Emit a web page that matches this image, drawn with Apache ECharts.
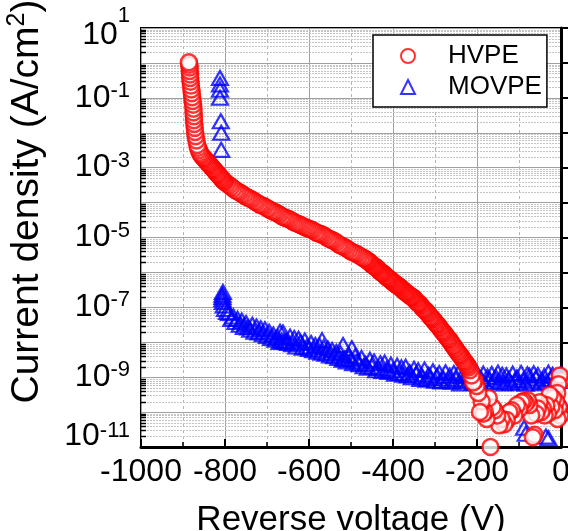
<!DOCTYPE html>
<html>
<head>
<meta charset="utf-8">
<script src="https://cdn.jsdelivr.net/npm/echarts@6/dist/echarts.min.js"></script>
<style>
  html, body { margin: 0; padding: 0; background: #fff; }
  #chart { width: 568px; height: 531px; }
</style>
</head>
<body>
<div id="chart"></div>
<script>
// Reverse I-V sweeps (0 V towards breakdown). Current density stored as log10(J / A cm^-2).
const seriesNames = ['HVPE', 'MOVPE'];

const hvpeV = [
  0, -2, -3, -5, -6, -8, -9, -12, -15,
  -19, -23, -27, -31, -35, -39, -43, -47, -51, -55,
  -59, -63, -67, -71, -75, -79, -84, -89, -94, -99,
  -105, -111, -117, -123, -129, -135, -141, -147, -152, -158,
  -163, -168, -172, -177, -181, -185, -189, -193, -197, -201,
  -205, -209, -213, -217,
  -220, -222.5, -225, -227.5, -230, -232.5, -235, -237.5, -240, -242.5,
  -245, -247.5, -250, -252.5, -255, -257.5, -260, -262.5, -265, -267.5,
  -270, -272.5, -275, -277.5, -280, -282.5, -285, -287.5, -290, -292.5,
  -295, -297.5, -300, -302.5, -305, -307.5, -310, -312.5, -315, -317.5,
  -320, -322.5, -325, -327.5, -330, -332.5, -335, -337.5, -340, -342.5,
  -345, -347.5, -350, -352.5, -355, -357.5, -360, -362.5, -365, -367.5,
  -370, -372.5, -375, -377.5, -380, -382.5, -385, -387.5, -390, -392.5,
  -395, -397.5, -400, -402.5, -405, -407.5, -410, -412.5, -415, -417.5,
  -420, -422.5, -425, -427.5, -430, -432.5, -435, -437.5, -440, -442.5,
  -445, -447.5, -450, -452.5, -455, -457.5, -460, -462.5, -465, -467.5,
  -470,
  -475, -480, -485, -490, -495, -500, -505, -510, -515, -520,
  -525, -530, -535, -540, -545, -550, -555, -560, -565, -570,
  -575, -580, -585, -590, -595, -600, -605, -610, -615, -620,
  -625, -630, -635, -640, -645, -650, -655, -660, -665, -670,
  -675, -680, -685, -690, -695, -700, -705, -710, -715, -720,
  -725, -730, -735, -740, -745, -750, -755, -760, -765, -770,
  -775, -780, -785, -790, -795, -800,
  -802.5, -805, -807.5, -810, -812.5, -815, -817.5, -820, -822.5, -825,
  -827.5, -830, -832.5, -835, -837.5, -840, -842.5, -845, -847.5, -850,
  -852.5, -855, -857.5, -860, -862, -864,
  -866, -868, -870, -871, -872, -873, -874, -874, -875, -875,
  -876, -877, -878, -879, -880, -881, -882, -883, -883, -884,
  -884, -885, -886
];
const hvpeLogJ = [
  -9.1, -10.1, -8.95, -9.85, -9.2, -10.2, -9.45, -9.7, -9.95,
  -9.6, -9.85, -9.5, -10.05, -9.8, -10.1, -9.9, -10.0, -9.72, -9.9,
  -10.05, -10.65, -10.72, -10.1, -9.8, -9.66, -9.75, -9.68, -9.72, -9.9,
  -9.8, -10.1, -9.95, -10.0, -10.23, -10.35, -10.2, -10.38, -10.1, -9.95,
  -9.86, -11.0, -9.6, -10.2, -10.0, -10.05, -9.7, -10.0, -9.45, -9.25,
  -9.1, -9.15, -8.95, -8.8,
  -8.72, -8.67, -8.63, -8.58, -8.55, -8.51, -8.46, -8.41, -8.37, -8.34,
  -8.3, -8.26, -8.21, -8.17, -8.12, -8.09, -8.04, -7.99, -7.94, -7.91,
  -7.88, -7.84, -7.79, -7.75, -7.72, -7.69, -7.65, -7.6, -7.56, -7.52,
  -7.49, -7.46, -7.42, -7.38, -7.34, -7.31, -7.28, -7.25, -7.2, -7.16,
  -7.13, -7.1, -7.07, -7.05, -7.01, -6.97, -6.93, -6.9, -6.88, -6.86,
  -6.82, -6.78, -6.75, -6.72, -6.7, -6.69, -6.67, -6.64, -6.61, -6.59,
  -6.57, -6.55, -6.52, -6.49, -6.46, -6.43, -6.41, -6.39, -6.37, -6.35,
  -6.33, -6.3, -6.28, -6.25, -6.22, -6.2, -6.18, -6.16, -6.13, -6.1,
  -6.07, -6.04, -6.02, -6.0, -5.98, -5.95, -5.92, -5.89, -5.86, -5.84,
  -5.82, -5.8, -5.78, -5.75, -5.72, -5.69, -5.67, -5.65, -5.63, -5.61,
  -5.59,
  -5.56, -5.52, -5.48, -5.45, -5.43, -5.4, -5.36, -5.32, -5.28, -5.25,
  -5.23, -5.19, -5.14, -5.1, -5.07, -5.05, -5.02, -4.98, -4.94, -4.91,
  -4.89, -4.87, -4.84, -4.8, -4.77, -4.75, -4.73, -4.7, -4.67, -4.64,
  -4.61, -4.59, -4.57, -4.53, -4.49, -4.46, -4.44, -4.42, -4.39, -4.35,
  -4.31, -4.28, -4.26, -4.23, -4.19, -4.16, -4.12, -4.09, -4.07, -4.04,
  -4.0, -3.96, -3.92, -3.89, -3.86, -3.83, -3.79, -3.75, -3.71, -3.68,
  -3.65, -3.6, -3.55, -3.5, -3.46, -3.42,
  -3.39, -3.35, -3.32, -3.29, -3.25, -3.21, -3.18, -3.15, -3.11, -3.07,
  -3.04, -3.01, -2.97, -2.93, -2.9, -2.87, -2.84, -2.8, -2.76, -2.73,
  -2.7, -2.66, -2.62, -2.57, -2.5, -2.43,
  -2.35, -2.22, -2.1, -1.98, -1.86, -1.75, -1.64, -1.53, -1.42, -1.31,
  -1.2, -1.09, -0.98, -0.87, -0.76, -0.65, -0.54, -0.43, -0.33, -0.23,
  -0.13, -0.05, 0.02
];

const movpeV = [
  0, 0, -5, -10, -15, -20, -25, -30, -30, -35,
  -36, -40, -45, -50, -55, -60, -65, -70, -75, -80,
  -84, -85, -88, -90, -95, -100, -105, -110, -115, -120,
  -125, -130, -135, -140, -145, -150, -155, -160, -165, -170,
  -175, -180, -185, -190, -195, -200, -205, -210, -215, -220,
  -225, -230, -235, -240, -245, -250, -255, -260, -265, -270,
  -275, -280, -285, -290, -295, -300, -305, -310, -315, -320,
  -325, -330, -335, -340, -345, -350, -355, -360, -365, -370,
  -375, -380, -385, -390, -395, -400, -405, -410, -415, -420,
  -425, -430, -435, -440, -445, -450, -455, -460, -465, -470,
  -475, -480, -485, -490, -495, -498, -500, -505, -510, -515,
  -519, -520, -525, -530, -535, -540, -545, -550, -555, -560,
  -565, -569, -570, -575, -580, -585, -590, -595, -600, -605,
  -610, -615, -620, -625, -630, -635, -640, -645, -650, -655,
  -660, -662, -665, -669, -670, -675, -680, -685, -690, -695,
  -700, -705, -710, -715, -720, -725, -730, -735, -740, -745,
  -750, -755, -760, -765, -770, -775, -780, -785, -790, -795,
  -800, -803, -805, -806, -806, -806, -805,
  -809, -809, -810, -812, -812, -812, -812
];
const movpeLogJ = [
  -9.72, -8.91, -9.11, -9.0, -9.18, -8.93, -9.05, -8.87, -10.75, -9.14,
  -10.7, -8.97, -9.09, -9.17, -8.94, -9.03, -8.89, -9.13, -8.96, -8.92,
  -10.62, -9.19, -10.45, -9.08, -8.88, -9.15, -9.01, -9.1, -8.9, -9.16,
  -9.06, -8.95, -9.18, -8.93, -9.12, -8.87, -9.0, -9.14, -8.91, -9.07,
  -8.98, -9.19, -8.9, -9.05, -9.13, -8.88, -9.02, -9.16, -8.95, -9.09,
  -8.92, -9.12, -8.97, -9.18, -8.9, -9.06, -8.88, -9.13, -8.96, -9.1,
  -8.86, -9.04, -9.12, -8.88, -8.97, -9.1, -8.83, -9.02, -8.93, -9.07,
  -8.78, -8.99, -9.05, -8.8, -8.92, -8.76, -9.0, -8.86, -8.95, -8.7,
  -8.93, -8.72, -8.88, -8.67, -8.9, -8.81, -8.64, -8.85, -8.77, -8.58,
  -8.82, -8.6, -8.74, -8.8, -8.55, -8.7, -8.5, -8.73, -8.62, -8.69,
  -8.45, -8.63, -8.56, -8.4, -8.6, -8.17, -8.5, -8.38, -8.55, -8.47,
  -8.08, -8.5, -8.32, -8.45, -8.28, -8.4, -8.22, -8.38, -8.18, -8.33,
  -8.14, -7.94, -8.3, -8.1, -8.27, -8.08, -8.23, -8.02, -8.19, -8.13,
  -7.95, -8.16, -8.0, -7.9, -8.12, -7.88, -8.06, -7.84, -8.02, -7.97,
  -7.98, -7.72, -7.95, -7.7, -7.99, -7.86, -7.93, -7.78, -7.88, -7.7,
  -7.82, -7.63, -7.77, -7.6, -7.72, -7.55, -7.7, -7.5, -7.64, -7.58,
  -7.45, -7.56, -7.38, -7.5, -7.33, -7.42, -7.26, -7.33, -7.16, -7.13,
  -7.05, -6.95, -6.85, -6.77, -6.7, -6.64, -6.56,
  -2.49, -2.0, -1.67, -1.0, -0.77, -0.62, -0.43
];

const FONT = "'Liberation Sans', Arial, Helvetica, sans-serif";

const hvpeData = hvpeV.map((v, i) => [v, Math.pow(10, hvpeLogJ[i])]);
const movpeData = movpeV.map((v, i) => [v, Math.pow(10, movpeLogJ[i])]);

// Log-axis minor positions (2..9 x 10^k) for the fine grid and minor ticks.
const minorLevels = [];
for (let k = -11; k <= 0; k++) {
  for (let m = 2; m <= 9; m++) minorLevels.push([0, m * Math.pow(10, k)]);
}

const chart = echarts.init(document.getElementById('chart'), null, { renderer: 'canvas' });

chart.setOption({
  animation: false,
  backgroundColor: '#fff',
  grid: {
    left: 141, top: 28, width: 420, height: 419,
    outerBoundsMode: 'none',
    containLabel: false,
    show: true, borderColor: '#000', borderWidth: 2, backgroundColor: 'transparent'
  },
  legend: {
    data: [
      { name: seriesNames[0], icon: 'circle' },
      { name: seriesNames[1], icon: 'triangle' }
    ],
    orient: 'vertical',
    left: 373, top: 35,
    itemWidth: 14, itemHeight: 14, itemGap: 5,
    padding: [8, 5, 7, 27],
    borderColor: '#000', borderWidth: 1.5,
    backgroundColor: '#fff',
    selectedMode: false,
    textStyle: { fontFamily: FONT, fontSize: 26, color: '#000', lineHeight: 26, padding: [0, 0, 0, 28] }
  },
  xAxis: {
    type: 'value', min: -1000, max: 0, interval: 200,
    axisLine: { show: true, onZero: false, lineStyle: { color: '#000', width: 3 } },
    axisTick: { show: true, inside: true, length: 8, lineStyle: { color: '#000', width: 2 } },
    minorTick: { show: true, splitNumber: 2, length: 5, lineStyle: { color: '#000', width: 1.5 } },
    splitLine: { show: true, lineStyle: { color: '#a0a0a0', width: 1 } },
    minorSplitLine: { show: true, lineStyle: { color: '#b4b4b4', width: 1, type: [3, 3] } },
    axisLabel: {
      fontFamily: FONT, fontSize: 32, color: '#000', margin: 9, lineHeight: 32,
      formatter: v => String(v)
    },
    name: 'Reverse voltage (V)', nameLocation: 'middle', nameGap: 56,
    nameTextStyle: { fontFamily: FONT, fontSize: 35, color: '#000', lineHeight: 35 }
  },
  yAxis: {
    type: 'log', logBase: 10, min: 1e-11, max: 10, interval: 1,
    axisLine: { show: true, lineStyle: { color: '#000', width: 3 } },
    axisTick: { show: true, inside: true, length: 8, lineStyle: { color: '#000', width: 2 } },
    minorTick: { show: false },
    splitLine: { show: true, lineStyle: { color: '#a0a0a0', width: 1 } },
    minorSplitLine: { show: false },
    axisLabel: {
      margin: 11,
      formatter: function (val) {
        const e = Math.round(Math.log10(val));
        if (e % 2 === 0) return '';
        if (e === 1) return '{spt| }{bt|10}{st|' + e + '}';
        if (e === -11) return '{spb| }{bb|10}{sb|' + e + '}';
        return '{b|10}{s|' + e + '}';
      },
      rich: {
        b:   { fontFamily: FONT, fontSize: 32, lineHeight: 36, color: '#000' },
        s:   { fontFamily: FONT, fontSize: 22, lineHeight: 22, verticalAlign: 'top', color: '#000' },
        spt: { fontSize: 1, lineHeight: 46 },
        bt:  { fontFamily: FONT, fontSize: 32, lineHeight: 36, verticalAlign: 'bottom', color: '#000' },
        st:  { fontFamily: FONT, fontSize: 22, lineHeight: 42, verticalAlign: 'top', color: '#000' },
        spb: { fontSize: 1, lineHeight: 54 },
        bb:  { fontFamily: FONT, fontSize: 32, lineHeight: 36, verticalAlign: 'top', color: '#000' },
        sb:  { fontFamily: FONT, fontSize: 22, lineHeight: 22, verticalAlign: 'top', color: '#000' }
      }
    },
    name: 'Current density (A/cm{sup|2})',
    nameLocation: 'middle', nameRotate: 90, nameGap: 92,
    nameTextStyle: {
      fontFamily: FONT, fontSize: 39, color: '#000', lineHeight: 44,
      padding: [0, 0, 0, 72],
      rich: {
        sup: { fontFamily: FONT, fontSize: 25, lineHeight: 26, verticalAlign: 'top', color: '#000' }
      }
    }
  },
  series: [
    {
      // fine log grid and minor ticks on the current-density axis
      type: 'custom', silent: true, z: 1,
      data: minorLevels,
      encode: { x: 0, y: 1 },
      renderItem: function (params, api) {
        const yv = api.value(1);
        const a = api.coord([-1000, yv]);
        const b = api.coord([0, yv]);
        const y = Math.round(a[1]) + 0.5;
        return {
          type: 'group',
          children: [
            { type: 'line', shape: { x1: a[0], y1: y, x2: b[0], y2: y },
              style: { stroke: '#c4c4c4', lineWidth: 1, lineDash: [2, 1] } },
            { type: 'line', shape: { x1: a[0], y1: y, x2: a[0] + 5, y2: y },
              style: { stroke: '#000', lineWidth: 1.5 } }
          ]
        };
      }
    },
    {
      name: seriesNames[1], type: 'scatter', data: movpeData,
      symbol: 'triangle', symbolSize: [16, 14],
      itemStyle: { color: 'transparent', borderColor: '#0000ff', borderWidth: 2.2 },
      clip: false, silent: true, z: 2
    },
    {
      name: seriesNames[0], type: 'scatter', data: hvpeData,
      symbol: 'circle', symbolSize: 16,
      itemStyle: { color: '#fff', borderColor: '#ff0000', borderWidth: 2.5 },
      clip: false, silent: true, z: 3
    }
  ]
});
</script>
</body>
</html>
